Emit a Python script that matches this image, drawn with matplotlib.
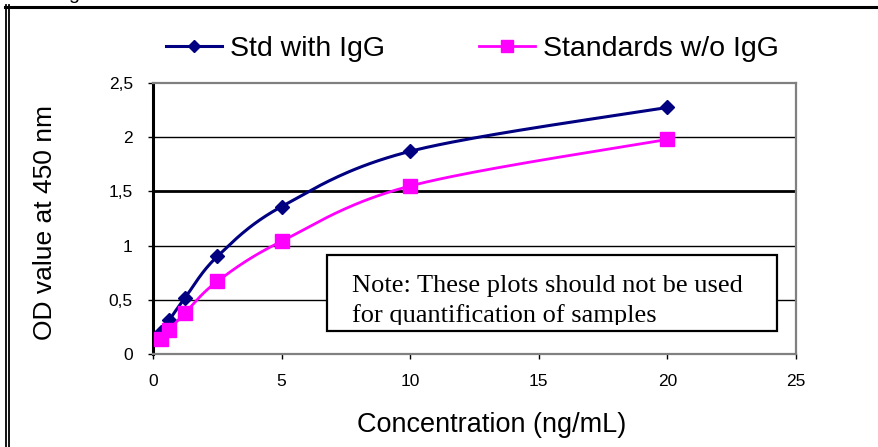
import numpy as np
import matplotlib
matplotlib.use("Agg")
import matplotlib.pyplot as plt
from matplotlib.lines import Line2D
from matplotlib.patches import Rectangle
from matplotlib.transforms import Bbox, TransformedBbox

# ---- data ----
conc = [0.3125, 0.625, 1.25, 2.5, 5, 10, 20]
std_with_igg = [0.20, 0.31, 0.52, 0.90, 1.36, 1.87, 2.275]
std_wo_igg = [0.135, 0.22, 0.38, 0.67, 1.04, 1.55, 1.98]
series_names = ["Std with IgG", "Standards w/o IgG"]
x_ticks = [0, 5, 10, 15, 20, 25]
x_tick_labels = ["0", "5", "10", "15", "20", "25"]
y_ticks = [0, 0.5, 1, 1.5, 2, 2.5]
y_tick_labels = ["0", "0,5", "1", "1,5", "2", "2,5"]
x_label = "Concentration (ng/mL)"
y_label = "OD value at 450 nm"
note_lines = ["Note: These plots should not be used",
              "for quantification of samples"]

plt.rcParams['font.family'] = ['Liberation Sans', 'DejaVu Sans']

W, H = 879, 447
fig = plt.figure(figsize=(W / 100, H / 100), dpi=100)
fig.patch.set_facecolor("white")

L, R, T, B = 153, 796, 83, 354
ax = fig.add_axes([L / W, 1 - B / H, (R - L) / W, (B - T) / H])
ax.set_xlim(0, 25)
ax.set_ylim(0, 2.5)

sx = (R - L) / 25.0
sy = (B - T) / 2.5


def excel_smooth(xs, ys, n=40):
    # Catmull-Rom style Bezier smoothing in pixel space (like Excel)
    P = np.column_stack([np.asarray(xs) * sx, np.asarray(ys) * sy])
    out = []
    m = len(P)
    for i in range(m - 1):
        p0 = P[i - 1] if i > 0 else P[i]
        p1 = P[i]
        p2 = P[i + 1]
        p3 = P[i + 2] if i + 2 < m else P[i + 1]
        c1 = p1 + (p2 - p0) / 6.0
        c2 = p2 - (p3 - p1) / 6.0
        t = np.linspace(0, 1, n)[:, None]
        seg = ((1 - t) ** 3) * p1 + 3 * ((1 - t) ** 2) * t * c1 + 3 * (1 - t) * t ** 2 * c2 + t ** 3 * p2
        if i > 0:
            seg = seg[1:]
        out.append(seg)
    out = np.vstack(out)
    return out[:, 0] / sx, out[:, 1] / sy


navy = "#000080"
magenta = "#FF00FF"

# gridlines
for yv in y_ticks[1:-1]:
    ax.axhline(yv, color="black", lw=2.0 if yv == 1.5 else 1.0, zorder=0.5)

bx, by = excel_smooth(conc, std_with_igg)
ax.plot(bx, by, color=navy, lw=2.2, zorder=2, solid_capstyle="round")
ax.plot(conc, std_with_igg, linestyle="none", marker="D", ms=7.5, color=navy, zorder=3)

px, py = excel_smooth(conc, std_wo_igg)
ax.plot(px, py, color=magenta, lw=2.0, zorder=4)
ax.plot(conc, std_wo_igg, linestyle="none", marker="s", ms=10, color=magenta, zorder=5)

# spines
for s in ["top", "right", "bottom"]:
    ax.spines[s].set_color("#808080")
    ax.spines[s].set_linewidth(1.6)
ax.spines["left"].set_color("black")
ax.spines["left"].set_linewidth(2.2)

ax.set_xticks(x_ticks)
ax.set_xticklabels(x_tick_labels)
ax.set_yticks(y_ticks)
ax.set_yticklabels(y_tick_labels)
ax.tick_params(axis="both", direction="out", length=3.5, width=1, color="black",
               labelsize=12.5, labelcolor="black")
ax.tick_params(axis="x", pad=11)
ax.tick_params(axis="y", pad=11)

# note box
x0, x1 = (327 - L) / (R - L), (777 - L) / (R - L)
y0, y1 = (B - 331) / (B - T), (B - 255) / (B - T)
rect = Rectangle((x0, y0), x1 - x0, y1 - y0, transform=ax.transAxes,
                 facecolor="white", edgecolor="black", lw=1.6, zorder=6)
ax.add_patch(rect)
yc = (B - 324.5) / (B - T)
clip = TransformedBbox(Bbox([[x0, yc], [x1, y1]]), ax.transAxes)
tx = (352 - L) / (R - L)
for line, base in zip(note_lines, [292, 322]):
    t = ax.text(tx, (B - base) / (B - T), line, transform=ax.transAxes,
                family=["Liberation Serif", "DejaVu Serif"], fontsize=19,
                va="baseline", ha="left", zorder=7)
    t.set_clip_box(clip)
    t.set_clip_on(True)

# axis labels
fig.text(492 / W, 1 - 432 / H, x_label, fontsize=19.5, ha="center", va="baseline")
fig.text(45 / W, 1 - 222 / H, y_label, fontsize=19, ha="center", va="center", rotation=90)

# legend
handles = [
    Line2D([], [], color=navy, lw=2.2, marker="D", ms=6),
    Line2D([], [], color=magenta, lw=2.0, marker="s", ms=9),
]
leg = fig.legend(handles, series_names, loc="center left",
                 bbox_to_anchor=(166 / W, 1 - 49 / H), ncol=2, frameon=False,
                 fontsize=20.5, handlelength=1.95, handletextpad=0.3,
                 columnspacing=3.3, borderpad=0, borderaxespad=0)

# figure borders
fig.add_artist(Line2D([5 / W, 1], [1 - 6.5 / H, 1 - 6.5 / H], color="black", lw=2.2,
                      transform=fig.transFigure))
for xp in [5.8, 9.2]:
    fig.add_artist(Line2D([xp / W, xp / W], [0, 1 - 5 / H], color="black", lw=1.3,
                          transform=fig.transFigure))
fig.text(74 / W, 1 + 1 / H, "g", fontsize=14, ha="center", va="baseline")

fig.savefig("out.png", dpi=100)
